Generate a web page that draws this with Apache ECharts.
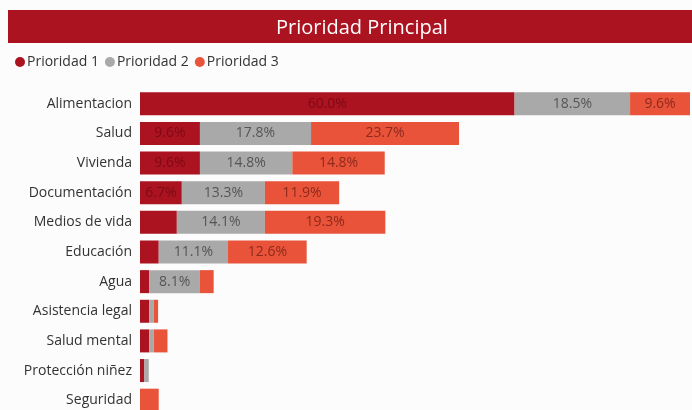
<!DOCTYPE html>
<html>
<head>
<meta charset="utf-8">
<script src="https://cdn.jsdelivr.net/npm/echarts@6/dist/echarts.min.js"></script>
<style>
  html, body { margin: 0; padding: 0; background: #fcfcfc; overflow: hidden; }
  #chart { width: 692px; height: 420px; }
</style>
</head>
<body>
<div id="chart"></div>
<script>
var categorias = ['Alimentacion', 'Salud', 'Vivienda', 'Documentación', 'Medios de vida', 'Educación', 'Agua', 'Asistencia legal', 'Salud mental', 'Protección niñez', 'Seguridad'];
var prioridad1 = [60.0, 9.6, 9.6, 6.7, 5.9, 3.0, 1.5, 1.5, 1.5, 0.7, 0];
var prioridad2 = [18.5, 17.8, 14.8, 13.3, 14.1, 11.1, 8.1, 0.7, 0.7, 0.7, 0];
var prioridad3 = [9.6, 23.7, 14.8, 11.9, 19.3, 12.6, 2.2, 0.7, 2.2, 0, 3.0];

var fuente = 'Open Sans';

function etiqueta(color) {
  return {
    show: true,
    position: 'inside',
    color: color,
    fontSize: 14,
    fontFamily: fuente,
    formatter: function (p) {
      return p.value >= 6 ? p.value.toFixed(1) + '%' : '';
    }
  };
}

// el lienzo es algo mas alto que la ventana: la ultima barra queda cortada como en la captura
var myChart = echarts.init(document.getElementById('chart'));

myChart.setOption({
  backgroundColor: '#fcfcfc',
  animation: false,
  graphic: [
    { type: 'rect', left: 8, top: 10, shape: { width: 684, height: 33 }, style: { fill: '#ab1320' } }
  ],
  title: {
    text: 'Prioridad Principal',
    left: 271,
    top: 13,
    textStyle: { color: '#ffffff', fontSize: 20, fontWeight: 'normal', fontFamily: fuente }
  },
  legend: {
    data: ['Prioridad 1', 'Prioridad 2', 'Prioridad 3'],
    left: 10,
    top: 50,
    icon: 'circle',
    itemWidth: 10,
    itemHeight: 10,
    itemGap: 6,
    textStyle: { color: '#333', fontSize: 14, fontFamily: fuente, padding: [0, 0, 0, -3] }
  },
  color: ['#ab1320', '#a9a9a9', '#e8533a'],
  grid: { left: 140, width: 550, top: 89, height: 326, containLabel: false },
  xAxis: {
    type: 'value',
    min: 0,
    max: 88.1,
    show: false
  },
  yAxis: {
    type: 'category',
    data: categorias,
    inverse: true,
    axisLine: { show: false },
    axisTick: { show: false },
    axisLabel: { color: '#333', fontSize: 14, fontFamily: fuente, margin: 8 }
  },
  series: [
    { name: 'Prioridad 1', type: 'bar', stack: 'total', barWidth: 23, data: prioridad1, label: etiqueta('#7e0b15') },
    { name: 'Prioridad 2', type: 'bar', stack: 'total', barWidth: 23, data: prioridad2, label: etiqueta('#555555') },
    { name: 'Prioridad 3', type: 'bar', stack: 'total', barWidth: 23, data: prioridad3, label: etiqueta('#8e2a1c') }
  ]
});
</script>
</body>
</html>
